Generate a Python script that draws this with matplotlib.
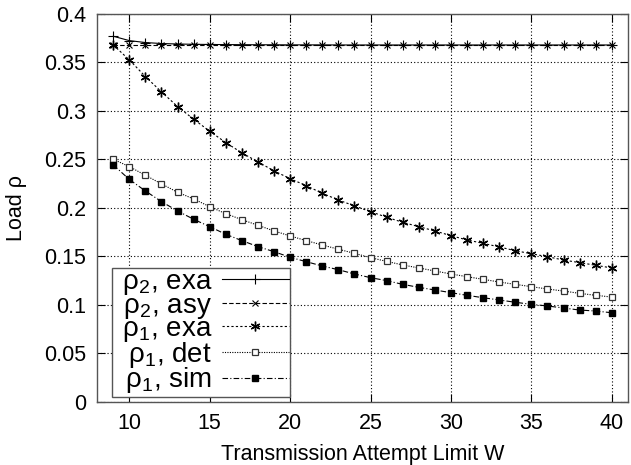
import matplotlib
matplotlib.use("Agg")
import matplotlib.pyplot as plt
import numpy as np

plt.rcParams["font.family"] = ["Liberation Sans", "DejaVu Sans"]
plt.rcParams["mathtext.fontset"] = "custom"
plt.rcParams["mathtext.rm"] = "Liberation Sans"

# limite W des tentatives
W = list(range(9, 41))

rho2_exa = [0.377, 0.3725, 0.3705, 0.3695, 0.369, 0.3687, 0.3685, 0.3684,
            0.3683, 0.3682, 0.3682, 0.3681, 0.3681, 0.3681, 0.3680, 0.3680,
            0.3680, 0.3680, 0.3680, 0.3680, 0.3680, 0.3680, 0.3680, 0.3680,
            0.3680, 0.3680, 0.3680, 0.3680, 0.3680, 0.3680, 0.3680, 0.3680]
rho2_asy = [0.3679] * len(W)
rho1_exa = [0.368, 0.3526, 0.3354, 0.3196, 0.3045, 0.2914, 0.279, 0.2673,
            0.2567, 0.2474, 0.2381, 0.2301, 0.2229, 0.215, 0.2081, 0.202,
            0.1961, 0.1903, 0.1851, 0.1806, 0.1762, 0.1713, 0.1669, 0.1634,
            0.1597, 0.1558, 0.1527, 0.1496, 0.1462, 0.1435, 0.1408, 0.138]
rho1_det = [0.2501, 0.2425, 0.2336, 0.2247, 0.2161, 0.2092, 0.2012, 0.194,
            0.1878, 0.182, 0.1762, 0.171, 0.1662, 0.1617, 0.1573, 0.1531,
            0.1486, 0.1448, 0.1411, 0.138, 0.1349, 0.1318, 0.129, 0.1263,
            0.1235, 0.1211, 0.1187, 0.1163, 0.1142, 0.1118, 0.1098, 0.108]
rho1_sim = [0.2443, 0.2293, 0.2174, 0.2064, 0.1968, 0.1882, 0.1806, 0.1727,
            0.1662, 0.16, 0.1548, 0.149, 0.1445, 0.14, 0.1362, 0.1318,
            0.128, 0.1249, 0.1211, 0.118, 0.1153, 0.1125, 0.1098, 0.1073,
            0.105, 0.1026, 0.1005, 0.0988, 0.0967, 0.0946, 0.0936, 0.0918]

fig = plt.figure(figsize=(6.31, 4.65), dpi=100)
ax = fig.add_axes([0.154, 0.136, 0.841, 0.834])

lw = 0.8
ax.plot(W, rho2_exa, color="black", lw=lw, ls="-", marker="+", ms=7,
        mew=0.8, label=r" ρ$_\mathrm{2}$, exa")
ax.plot(W, rho2_asy, color="black", lw=lw, ls=(0, (4, 2)), marker="x", ms=5,
        mew=0.8, label=r" ρ$_\mathrm{2}$, asy")
ax.plot(W, rho1_exa, color="black", lw=lw, ls=(0, (2, 2)), marker=(6, 2, 0),
        ms=7, mew=1.0, label=r" ρ$_\mathrm{1}$, exa")
ax.plot(W, rho1_det, color="black", lw=lw, ls=(0, (1, 1.2)), marker="s", ms=5,
        mfc="white", mec="#333333", mew=0.9, label=r"  ρ$_\mathrm{1}$, det")
ax.plot(W, rho1_sim, color="black", lw=lw, ls=(0, (5, 2, 1, 2)), marker="s",
        ms=5, mfc="black", mec="black", label=r" ρ$_\mathrm{1}$, sim")

ax.set_xlim(8, 41)
ax.set_ylim(0, 0.4)
ax.set_xticks(range(10, 41, 5))
ax.set_yticks(np.arange(0, 0.401, 0.05))
ax.set_yticklabels(["0", "0.05", "0.1", "0.15", "0.2", "0.25", "0.3", "0.35", "0.4"])
ax.tick_params(direction="in", top=True, right=True, labelsize=15.5,
               length=6, width=0.8, pad=8)
ax.grid(True, color="black", ls=(0, (1, 2)), lw=0.8)
for s in ax.spines.values():
    s.set_color("#555555")
    s.set_linewidth(1.0)

ax.set_xlabel("Transmission Attempt Limit W", fontsize=15.5, labelpad=7)
ax.set_ylabel("Load ρ", fontsize=15.5, labelpad=12)

leg = ax.legend(loc="lower left", bbox_to_anchor=(0.028, 0.013), fontsize=20,
                markerfirst=False, handlelength=2.4, labelspacing=-0.16,
                borderpad=0.05, handletextpad=0.35, borderaxespad=0,
                fancybox=False, framealpha=1, edgecolor="#555555")
leg.get_frame().set_linewidth(1.0)

fig.savefig("out.png", dpi=100)
